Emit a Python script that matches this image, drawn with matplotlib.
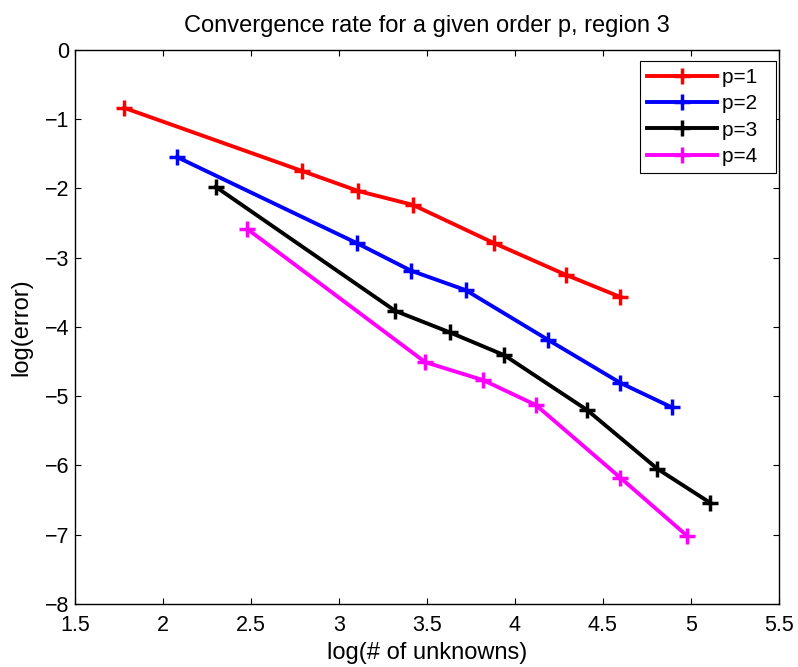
import matplotlib
matplotlib.use("Agg")
import matplotlib.pyplot as plt

plt.rcParams["font.family"] = ["Liberation Sans", "DejaVu Sans"]

# log(# of unknowns), log(error) per order p
x_p1 = [1.78, 2.79, 3.11, 3.42, 3.88, 4.29, 4.60]
y_p1 = [-0.84, -1.75, -2.04, -2.24, -2.79, -3.25, -3.57]

x_p2 = [2.08, 3.10, 3.41, 3.72, 4.19, 4.60, 4.89]
y_p2 = [-1.55, -2.79, -3.19, -3.47, -4.19, -4.81, -5.16]

x_p3 = [2.30, 3.32, 3.63, 3.94, 4.41, 4.81, 5.11]
y_p3 = [-1.98, -3.77, -4.08, -4.41, -5.20, -6.05, -6.54]

x_p4 = [2.48, 3.49, 3.82, 4.12, 4.60, 4.98]
y_p4 = [-2.59, -4.51, -4.77, -5.13, -6.18, -7.02]

series = [
    (x_p1, y_p1, "#ff0000", "p=1"),
    (x_p2, y_p2, "#0000ff", "p=2"),
    (x_p3, y_p3, "#000000", "p=3"),
    (x_p4, y_p4, "#ff00ff", "p=4"),
]

fig = plt.figure(figsize=(7.98, 6.67), dpi=100)
ax = fig.add_axes([0.094, 0.0945, 0.882, 0.831])

for xs, ys, color, label in series:
    # trailing spaces widen the legend box on the right like the original
    ax.plot(xs, ys, color=color, linewidth=2.8, marker="+",
            markersize=11.5, markeredgewidth=2.5, label=label + "  ")

ax.set_xlim(1.5, 5.5)
ax.set_ylim(-8, 0)
ax.set_xticks([1.5, 2, 2.5, 3, 3.5, 4, 4.5, 5, 5.5])
ax.set_xticklabels(["1.5", "2", "2.5", "3", "3.5", "4", "4.5", "5", "5.5"])
ax.set_yticks(range(-8, 1))
ax.set_yticklabels(["\u22128", "\u22127", "\u22126", "\u22125", "\u22124",
                    "\u22123", "\u22122", "\u22121", "0"])
ax.tick_params(direction="in", top=True, right=True, labelsize=15.5,
               length=4.3, width=0.8)
ax.tick_params(axis="x", pad=8)
ax.tick_params(axis="y", pad=4)
for spine in ax.spines.values():
    spine.set_linewidth(1.0)

ax.set_xlabel("log(# of unknowns)", fontsize=17, labelpad=4)
ax.set_ylabel("log(error)", fontsize=17, labelpad=9)
ax.set_title("Convergence rate for a given order p, region 3", fontsize=17, pad=13)

leg = ax.legend(loc="upper right", bbox_to_anchor=(0.9953, 0.979),
                borderaxespad=0, fontsize=15, handlelength=3.35,
                fancybox=False, framealpha=1, edgecolor="black",
                borderpad=0.32, labelspacing=0.35, handletextpad=0.25)
leg.get_frame().set_linewidth(0.8)

fig.savefig("out.png", dpi=100)
